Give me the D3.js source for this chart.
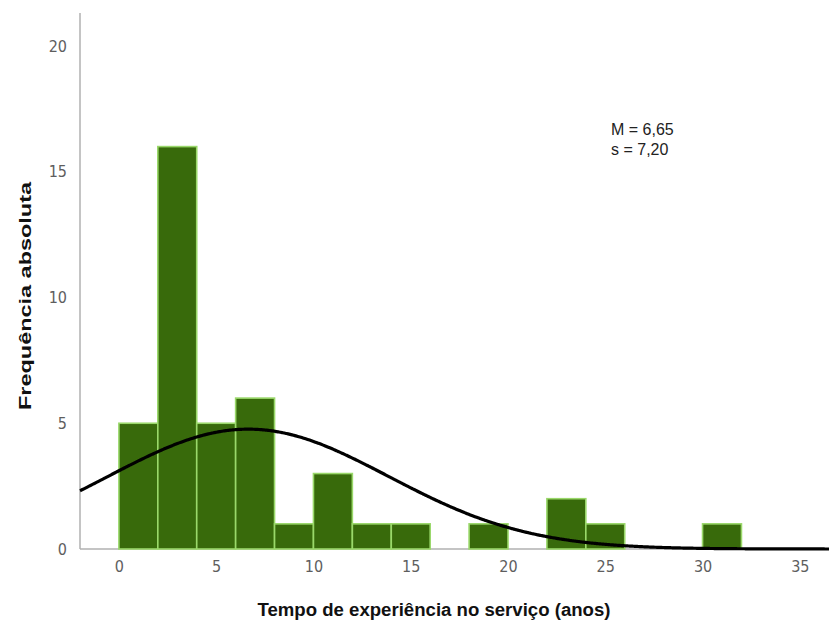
<!DOCTYPE html>
<html>
<head>
<meta charset="utf-8">
<script src="https://cdn.jsdelivr.net/npm/d3@7"></script>
<style>
  html, body { margin: 0; padding: 0; background: #fff; }
  svg { display: block; }
</style>
</head>
<body>
<svg id="chart" width="829" height="624"></svg>
<script>
// Histogram of years of service experience (2-year bins) with fitted normal curve
const binStarts = [0, 2, 4, 6, 8, 10, 12, 14, 16, 18, 20, 22, 24, 26, 28, 30];
const binCounts = [5, 16, 5, 6, 1, 3, 1, 1, 0, 1, 0, 2, 1, 0, 0, 1];
const binWidth = 2;
const xTicks = [0, 5, 10, 15, 20, 25, 30, 35];
const yTicks = [0, 5, 10, 15, 20];
const meanValue = 6.65;
const sdValue = 7.20;
const statLabels = ["M = 6,65", "s = 7,20"];
const xTitle = "Tempo de experiência no serviço (anos)";
const yTitle = "Frequência absoluta";

const svg = d3.select("#chart");
const plotLeft = 80, plotRight = 829, plotTop = 13, plotBottom = 549;

const x = d3.scaleLinear().domain([-2, 36.5]).range([plotLeft, plotRight]);
const y = d3.scaleLinear().domain([0, 20]).range([plotBottom, 46]);

// axis lines (drawn first so marks sit on top)
const axisColor = "#b0b0b0";
svg.append("line").attr("x1", plotLeft).attr("x2", plotLeft).attr("y1", plotTop).attr("y2", plotBottom)
  .attr("stroke", axisColor).attr("stroke-width", 1.5);
svg.append("line").attr("x1", plotLeft).attr("x2", plotRight).attr("y1", plotBottom).attr("y2", plotBottom)
  .attr("stroke", axisColor).attr("stroke-width", 1.5);

// bars
const bins = binStarts.map((s, i) => ({ x0: s, x1: s + binWidth, n: binCounts[i] }))
  .filter(d => d.n > 0);
svg.append("g").selectAll("rect").data(bins).join("rect")
  .attr("x", d => x(d.x0))
  .attr("y", d => y(d.n))
  .attr("width", d => x(d.x1) - x(d.x0))
  .attr("height", d => y(0) - y(d.n))
  .attr("fill", "#386a0b")
  .attr("stroke", "#9ad86a")
  .attr("stroke-width", 1.6);

// normal curve scaled to counts
const total = d3.sum(binCounts);
const pdf = v => Math.exp(-0.5 * ((v - meanValue) / sdValue) ** 2) / (sdValue * Math.sqrt(2 * Math.PI));
const xs = d3.range(-2, 36.51, 0.1);
const line = d3.line().x(v => x(v)).y(v => y(total * binWidth * pdf(v))).curve(d3.curveBasis);
svg.append("path").datum(xs)
  .attr("d", line)
  .attr("fill", "none")
  .attr("stroke", "#000")
  .attr("stroke-width", 3.2);

// tick labels
const xAxis = svg.append("g").attr("transform", `translate(0,${plotBottom})`)
  .call(d3.axisBottom(x).tickValues(xTicks).tickSize(0).tickPadding(12));
const yAxis = svg.append("g").attr("transform", `translate(${plotLeft},0)`)
  .call(d3.axisLeft(y).tickValues(yTicks).tickSize(0).tickPadding(13));
[xAxis, yAxis].forEach(g => {
  g.select(".domain").remove();
  g.selectAll("text")
    .attr("fill", "#5e5e5e")
    .style("font-family", "'DejaVu Sans Condensed', 'Liberation Sans Narrow', sans-serif")
    .style("font-size", "16px");
});

// axis titles
svg.append("text")
  .attr("x", 434).attr("y", 616)
  .attr("text-anchor", "middle")
  .attr("textLength", 353)
  .attr("lengthAdjust", "spacingAndGlyphs")
  .style("font-family", "'Liberation Sans', Arial, sans-serif")
  .style("font-weight", "bold").style("font-size", "18px")
  .attr("fill", "#111")
  .text(xTitle);
svg.append("text")
  .attr("transform", "translate(31,296) rotate(-90)")
  .attr("text-anchor", "middle")
  .attr("textLength", 228)
  .attr("lengthAdjust", "spacingAndGlyphs")
  .style("font-family", "'Liberation Sans', Arial, sans-serif")
  .style("font-weight", "bold").style("font-size", "17px")
  .attr("fill", "#111")
  .text(yTitle);

// summary statistics
svg.append("g").selectAll("text").data(statLabels).join("text")
  .attr("x", 611)
  .attr("y", (d, i) => 135 + i * 20)
  .style("font-family", "'Liberation Sans', Arial, sans-serif")
  .style("font-size", "16px")
  .attr("fill", "#222")
  .text(d => d);
</script>
</body>
</html>
